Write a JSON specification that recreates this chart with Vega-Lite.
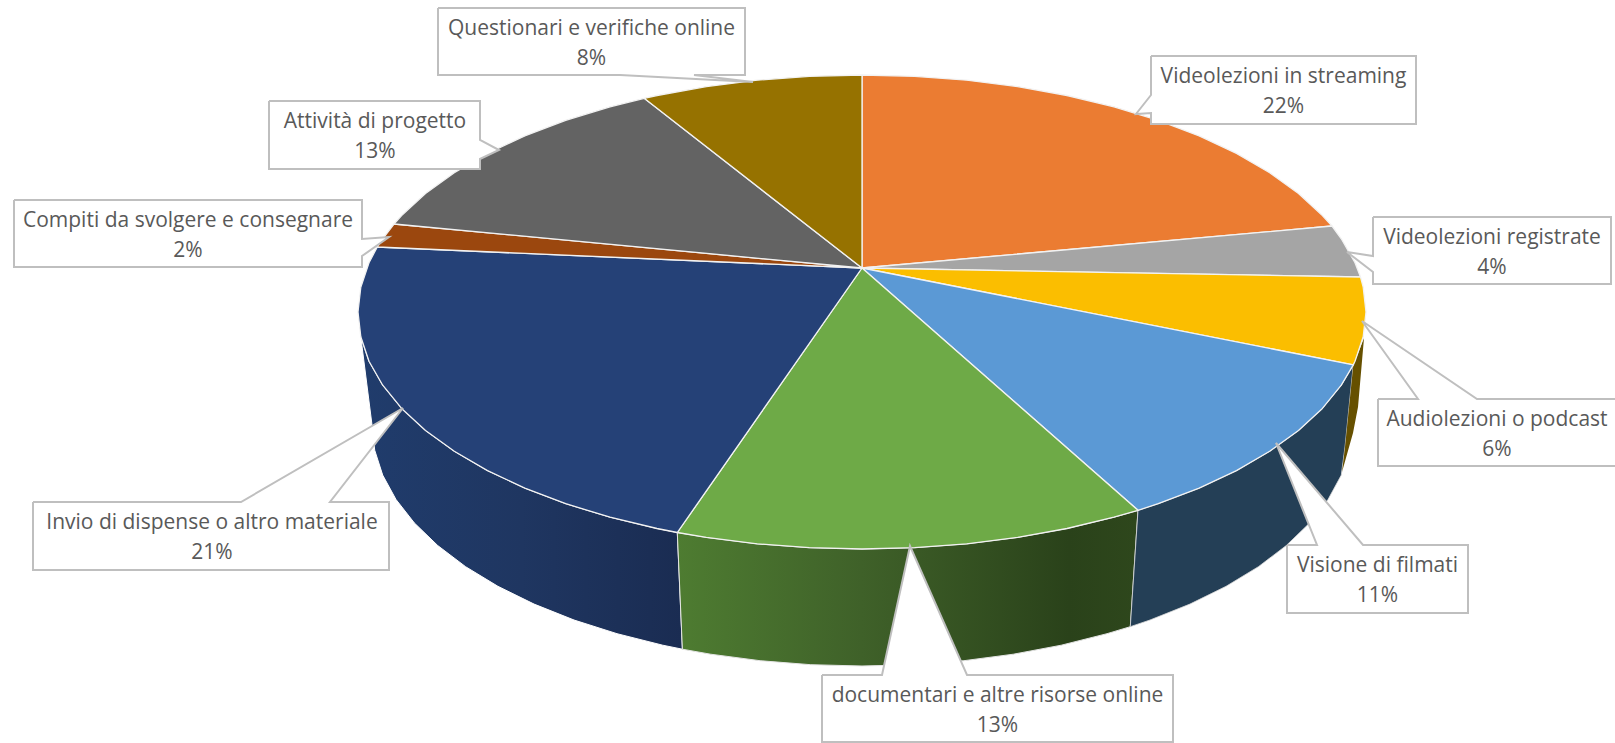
{"$schema":"https://vega.github.io/schema/vega-lite/v6.json","width":1615,"height":743,"padding":0,"autosize":{"type":"fit","contains":"padding"},"background":"white","config":{"view":{"stroke":null}},
"datasets":{
"wedges":[
{"slice":"streaming","i":0,"x":862,"y":268},{"slice":"streaming","i":1,"x":862,"y":75},{"slice":"streaming","i":2,"x":914.7,"y":76.3},{"slice":"streaming","i":3,"x":966.8,"y":80.2},{"slice":"streaming","i":4,"x":1017.7,"y":86.6},{"slice":"streaming","i":5,"x":1067,"y":95.5},{"slice":"streaming","i":6,"x":1114,"y":106.8},{"slice":"streaming","i":7,"x":1158.3,"y":120.3},{"slice":"streaming","i":8,"x":1199.2,"y":135.9},{"slice":"streaming","i":9,"x":1236.5,"y":153.4},{"slice":"streaming","i":10,"x":1269.7,"y":172.7},{"slice":"streaming","i":11,"x":1298.5,"y":193.5},{"slice":"streaming","i":12,"x":1322.4,"y":215.6},{"slice":"streaming","i":13,"x":1332,"y":226},{"slice":"streaming","i":14,"x":862,"y":268},
{"slice":"registrate","i":0,"x":862,"y":268},{"slice":"registrate","i":1,"x":1332,"y":226},{"slice":"registrate","i":2,"x":1341.3,"y":238.8},{"slice":"registrate","i":3,"x":1355,"y":262.7},{"slice":"registrate","i":4,"x":1360.5,"y":277},{"slice":"registrate","i":5,"x":862,"y":268},
{"slice":"audio","i":0,"x":862,"y":268},{"slice":"audio","i":1,"x":1360.5,"y":277},{"slice":"audio","i":2,"x":1363.2,"y":287.2},{"slice":"audio","i":3,"x":1366,"y":312},{"slice":"audio","i":4,"x":1363.2,"y":336.8},{"slice":"audio","i":5,"x":1355,"y":361.3},{"slice":"audio","i":6,"x":1353.3,"y":364.9},{"slice":"audio","i":7,"x":862,"y":268},
{"slice":"filmati","i":0,"x":862,"y":268},{"slice":"filmati","i":1,"x":1353.3,"y":364.9},{"slice":"filmati","i":2,"x":1341.3,"y":385.2},{"slice":"filmati","i":3,"x":1322.4,"y":408.4},{"slice":"filmati","i":4,"x":1298.5,"y":430.5},{"slice":"filmati","i":5,"x":1269.7,"y":451.3},{"slice":"filmati","i":6,"x":1236.5,"y":470.6},{"slice":"filmati","i":7,"x":1199.2,"y":488.1},{"slice":"filmati","i":8,"x":1158.3,"y":503.7},{"slice":"filmati","i":9,"x":1138,"y":510.3},{"slice":"filmati","i":10,"x":862,"y":268},
{"slice":"documentari","i":0,"x":862,"y":268},{"slice":"documentari","i":1,"x":1138,"y":510.3},{"slice":"documentari","i":2,"x":1114,"y":517.2},{"slice":"documentari","i":3,"x":1067,"y":528.5},{"slice":"documentari","i":4,"x":1017.7,"y":537.4},{"slice":"documentari","i":5,"x":966.8,"y":543.8},{"slice":"documentari","i":6,"x":914.7,"y":547.7},{"slice":"documentari","i":7,"x":862,"y":549},{"slice":"documentari","i":8,"x":809.3,"y":547.7},{"slice":"documentari","i":9,"x":757.2,"y":543.8},{"slice":"documentari","i":10,"x":706.3,"y":537.4},{"slice":"documentari","i":11,"x":677.3,"y":532.5},{"slice":"documentari","i":12,"x":862,"y":268},
{"slice":"dispense","i":0,"x":862,"y":268},{"slice":"dispense","i":1,"x":677.3,"y":532.5},{"slice":"dispense","i":2,"x":657,"y":528.5},{"slice":"dispense","i":3,"x":610,"y":517.2},{"slice":"dispense","i":4,"x":565.7,"y":503.7},{"slice":"dispense","i":5,"x":524.8,"y":488.1},{"slice":"dispense","i":6,"x":487.5,"y":470.6},{"slice":"dispense","i":7,"x":454.3,"y":451.3},{"slice":"dispense","i":8,"x":425.5,"y":430.5},{"slice":"dispense","i":9,"x":401.6,"y":408.4},{"slice":"dispense","i":10,"x":382.7,"y":385.2},{"slice":"dispense","i":11,"x":369,"y":361.3},{"slice":"dispense","i":12,"x":360.8,"y":336.8},{"slice":"dispense","i":13,"x":358,"y":312},{"slice":"dispense","i":14,"x":360.8,"y":287.2},{"slice":"dispense","i":15,"x":369,"y":262.7},{"slice":"dispense","i":16,"x":377.3,"y":247},{"slice":"dispense","i":17,"x":862,"y":268},
{"slice":"compiti","i":0,"x":862,"y":268},{"slice":"compiti","i":1,"x":377.3,"y":247},{"slice":"compiti","i":2,"x":382.7,"y":238.8},{"slice":"compiti","i":3,"x":394,"y":224},{"slice":"compiti","i":4,"x":862,"y":268},
{"slice":"progetto","i":0,"x":862,"y":268},{"slice":"progetto","i":1,"x":394,"y":224},{"slice":"progetto","i":2,"x":401.6,"y":215.6},{"slice":"progetto","i":3,"x":425.5,"y":193.5},{"slice":"progetto","i":4,"x":454.3,"y":172.7},{"slice":"progetto","i":5,"x":487.5,"y":153.4},{"slice":"progetto","i":6,"x":524.8,"y":135.9},{"slice":"progetto","i":7,"x":565.7,"y":120.3},{"slice":"progetto","i":8,"x":610,"y":106.8},{"slice":"progetto","i":9,"x":644.2,"y":98.3},{"slice":"progetto","i":10,"x":862,"y":268},
{"slice":"verifiche","i":0,"x":862,"y":268},{"slice":"verifiche","i":1,"x":644.2,"y":98.3},{"slice":"verifiche","i":2,"x":657,"y":95.5},{"slice":"verifiche","i":3,"x":706.3,"y":86.6},{"slice":"verifiche","i":4,"x":757.2,"y":80.2},{"slice":"verifiche","i":5,"x":809.3,"y":76.3},{"slice":"verifiche","i":6,"x":862,"y":75},{"slice":"verifiche","i":7,"x":862,"y":268}
],
"walls":[
{"slice":"dispense","i":0,"x":677.3,"y":532.5},{"slice":"dispense","i":1,"x":657,"y":528.5},{"slice":"dispense","i":2,"x":610,"y":517.2},{"slice":"dispense","i":3,"x":565.7,"y":503.7},{"slice":"dispense","i":4,"x":524.8,"y":488.1},{"slice":"dispense","i":5,"x":487.5,"y":470.6},{"slice":"dispense","i":6,"x":454.3,"y":451.3},{"slice":"dispense","i":7,"x":425.5,"y":430.5},{"slice":"dispense","i":8,"x":401.6,"y":408.4},{"slice":"dispense","i":9,"x":382.7,"y":385.2},{"slice":"dispense","i":10,"x":369,"y":361.3},{"slice":"dispense","i":11,"x":360.8,"y":336.8},{"slice":"dispense","i":12,"x":372,"y":425},{"slice":"dispense","i":13,"x":374.7,"y":450.2},{"slice":"dispense","i":14,"x":382.7,"y":475.1},{"slice":"dispense","i":15,"x":396,"y":499.5},{"slice":"dispense","i":16,"x":414.4,"y":523},{"slice":"dispense","i":17,"x":437.7,"y":545.5},{"slice":"dispense","i":18,"x":465.6,"y":566.7},{"slice":"dispense","i":19,"x":497.9,"y":586.3},{"slice":"dispense","i":20,"x":534.1,"y":604.1},{"slice":"dispense","i":21,"x":574,"y":620},{"slice":"dispense","i":22,"x":617,"y":633.7},{"slice":"dispense","i":23,"x":662.7,"y":645.2},{"slice":"dispense","i":24,"x":682.4,"y":649.2},{"slice":"dispense","i":25,"x":677.3,"y":532.5},
{"slice":"documentari","i":0,"x":677.3,"y":532.5},{"slice":"documentari","i":1,"x":706.3,"y":537.4},{"slice":"documentari","i":2,"x":757.2,"y":543.8},{"slice":"documentari","i":3,"x":809.3,"y":547.7},{"slice":"documentari","i":4,"x":862,"y":549},{"slice":"documentari","i":5,"x":914.7,"y":547.7},{"slice":"documentari","i":6,"x":966.8,"y":543.8},{"slice":"documentari","i":7,"x":1017.7,"y":537.4},{"slice":"documentari","i":8,"x":1067,"y":528.5},{"slice":"documentari","i":9,"x":1114,"y":517.2},{"slice":"documentari","i":10,"x":1138,"y":510.3},{"slice":"documentari","i":11,"x":1130.3,"y":626.7},{"slice":"documentari","i":12,"x":1107,"y":633.7},{"slice":"documentari","i":13,"x":1061.3,"y":645.2},{"slice":"documentari","i":14,"x":1013.4,"y":654.2},{"slice":"documentari","i":15,"x":963.9,"y":660.7},{"slice":"documentari","i":16,"x":913.2,"y":664.7},{"slice":"documentari","i":17,"x":862,"y":666},{"slice":"documentari","i":18,"x":810.8,"y":664.7},{"slice":"documentari","i":19,"x":760.1,"y":660.7},{"slice":"documentari","i":20,"x":710.6,"y":654.2},{"slice":"documentari","i":21,"x":682.4,"y":649.2},{"slice":"documentari","i":22,"x":677.3,"y":532.5},
{"slice":"filmati","i":0,"x":1353.3,"y":364.9},{"slice":"filmati","i":1,"x":1341.3,"y":385.2},{"slice":"filmati","i":2,"x":1322.4,"y":408.4},{"slice":"filmati","i":3,"x":1298.5,"y":430.5},{"slice":"filmati","i":4,"x":1269.7,"y":451.3},{"slice":"filmati","i":5,"x":1236.5,"y":470.6},{"slice":"filmati","i":6,"x":1199.2,"y":488.1},{"slice":"filmati","i":7,"x":1158.3,"y":503.7},{"slice":"filmati","i":8,"x":1138,"y":510.3},{"slice":"filmati","i":9,"x":1130.3,"y":626.7},{"slice":"filmati","i":10,"x":1150,"y":620},{"slice":"filmati","i":11,"x":1189.9,"y":604.1},{"slice":"filmati","i":12,"x":1226.1,"y":586.3},{"slice":"filmati","i":13,"x":1258.4,"y":566.7},{"slice":"filmati","i":14,"x":1286.3,"y":545.5},{"slice":"filmati","i":15,"x":1309.6,"y":523},{"slice":"filmati","i":16,"x":1328,"y":499.5},{"slice":"filmati","i":17,"x":1341.3,"y":475.1},{"slice":"filmati","i":18,"x":1345,"y":447},{"slice":"filmati","i":19,"x":1353.3,"y":364.9},
{"slice":"audio","i":0,"x":1364,"y":338},{"slice":"audio","i":1,"x":1355,"y":361.3},{"slice":"audio","i":2,"x":1353.3,"y":364.9},{"slice":"audio","i":3,"x":1345,"y":447},{"slice":"audio","i":4,"x":1342,"y":472},{"slice":"audio","i":5,"x":1353,"y":433},{"slice":"audio","i":6,"x":1358,"y":407},{"slice":"audio","i":7,"x":1364,"y":338}
],
"callouts":[
{"slice":"verifiche","i":0,"x":438,"y":8},{"slice":"verifiche","i":1,"x":745,"y":8},{"slice":"verifiche","i":2,"x":745,"y":75},{"slice":"verifiche","i":3,"x":694,"y":75},{"slice":"verifiche","i":4,"x":753,"y":82},{"slice":"verifiche","i":5,"x":620,"y":75},{"slice":"verifiche","i":6,"x":438,"y":75},{"slice":"verifiche","i":7,"x":438,"y":8},
{"slice":"progetto","i":0,"x":269,"y":101},{"slice":"progetto","i":1,"x":480,"y":101},{"slice":"progetto","i":2,"x":480,"y":140},{"slice":"progetto","i":3,"x":499,"y":150},{"slice":"progetto","i":4,"x":480,"y":159},{"slice":"progetto","i":5,"x":480,"y":169},{"slice":"progetto","i":6,"x":269,"y":169},{"slice":"progetto","i":7,"x":269,"y":101},
{"slice":"compiti","i":0,"x":14,"y":200},{"slice":"compiti","i":1,"x":362,"y":200},{"slice":"compiti","i":2,"x":362,"y":239},{"slice":"compiti","i":3,"x":389,"y":237},{"slice":"compiti","i":4,"x":362,"y":256},{"slice":"compiti","i":5,"x":362,"y":267},{"slice":"compiti","i":6,"x":14,"y":267},{"slice":"compiti","i":7,"x":14,"y":200},
{"slice":"streaming","i":0,"x":1151,"y":56},{"slice":"streaming","i":1,"x":1416,"y":56},{"slice":"streaming","i":2,"x":1416,"y":124},{"slice":"streaming","i":3,"x":1151,"y":124},{"slice":"streaming","i":4,"x":1151,"y":113},{"slice":"streaming","i":5,"x":1136,"y":114},{"slice":"streaming","i":6,"x":1151,"y":95},{"slice":"streaming","i":7,"x":1151,"y":56},
{"slice":"registrate","i":0,"x":1373,"y":217},{"slice":"registrate","i":1,"x":1611,"y":217},{"slice":"registrate","i":2,"x":1611,"y":284},{"slice":"registrate","i":3,"x":1373,"y":284},{"slice":"registrate","i":4,"x":1373,"y":272},{"slice":"registrate","i":5,"x":1347,"y":252},{"slice":"registrate","i":6,"x":1373,"y":256},{"slice":"registrate","i":7,"x":1373,"y":217},
{"slice":"audio","i":0,"x":1378,"y":399},{"slice":"audio","i":1,"x":1418,"y":399},{"slice":"audio","i":2,"x":1362,"y":321},{"slice":"audio","i":3,"x":1477,"y":399},{"slice":"audio","i":4,"x":1617,"y":399},{"slice":"audio","i":5,"x":1617,"y":466},{"slice":"audio","i":6,"x":1378,"y":466},{"slice":"audio","i":7,"x":1378,"y":399},
{"slice":"filmati","i":0,"x":1287,"y":545},{"slice":"filmati","i":1,"x":1317,"y":545},{"slice":"filmati","i":2,"x":1276,"y":443},{"slice":"filmati","i":3,"x":1363,"y":545},{"slice":"filmati","i":4,"x":1468,"y":545},{"slice":"filmati","i":5,"x":1468,"y":613},{"slice":"filmati","i":6,"x":1287,"y":613},{"slice":"filmati","i":7,"x":1287,"y":545},
{"slice":"documentari","i":0,"x":822,"y":675},{"slice":"documentari","i":1,"x":882,"y":675},{"slice":"documentari","i":2,"x":910,"y":546},{"slice":"documentari","i":3,"x":967,"y":675},{"slice":"documentari","i":4,"x":1173,"y":675},{"slice":"documentari","i":5,"x":1173,"y":742},{"slice":"documentari","i":6,"x":822,"y":742},{"slice":"documentari","i":7,"x":822,"y":675},
{"slice":"dispense","i":0,"x":33,"y":502},{"slice":"dispense","i":1,"x":241,"y":502},{"slice":"dispense","i":2,"x":403,"y":408},{"slice":"dispense","i":3,"x":330,"y":502},{"slice":"dispense","i":4,"x":389,"y":502},{"slice":"dispense","i":5,"x":389,"y":570},{"slice":"dispense","i":6,"x":33,"y":570},{"slice":"dispense","i":7,"x":33,"y":502}
],
"labels":[
{"slice":"streaming","name":"Videolezioni in streaming","pct":"22%","x":1283.5,"y":90},
{"slice":"registrate","name":"Videolezioni registrate","pct":"4%","x":1492,"y":250.5},
{"slice":"audio","name":"Audiolezioni o podcast","pct":"6%","x":1497,"y":432.5},
{"slice":"filmati","name":"Visione di filmati","pct":"11%","x":1377.5,"y":579},
{"slice":"documentari","name":"documentari e altre risorse online","pct":"13%","x":997.5,"y":708.5},
{"slice":"dispense","name":"Invio di dispense o altro materiale","pct":"21%","x":212,"y":536},
{"slice":"compiti","name":"Compiti da svolgere e consegnare","pct":"2%","x":188,"y":233.5},
{"slice":"progetto","name":"Attività di progetto","pct":"13%","x":375,"y":135},
{"slice":"verifiche","name":"Questionari e verifiche online","pct":"8%","x":591.5,"y":42}
]},
"encoding":{
"x":{"field":"x","type":"quantitative","scale":{"domain":[0,1615],"nice":false,"zero":false},"axis":null},
"y":{"field":"y","type":"quantitative","scale":{"domain":[0,743],"reverse":true,"nice":false,"zero":false},"axis":null}
},
"layer":[
{"data":{"name":"walls"},"transform":[{"filter":"datum.slice==='dispense'"}],"mark":{"type":"line","interpolate":"linear","stroke":"#ffffff","strokeWidth":1,"fill":{"gradient":"linear","x1":0,"y1":0,"x2":1,"y2":0,"stops":[{"offset":0,"color":"#203c6c"},{"offset":0.5,"color":"#1f3661"},{"offset":1,"color":"#1a2c52"}]}},"encoding":{"order":{"field":"i","type":"quantitative"}}},
{"data":{"name":"walls"},"transform":[{"filter":"datum.slice==='documentari'"}],"mark":{"type":"line","interpolate":"linear","stroke":"#e4e4e4","strokeWidth":1,"fill":{"gradient":"linear","x1":0,"y1":0,"x2":1,"y2":0,"stops":[{"offset":0,"color":"#4e7c31"},{"offset":0.4,"color":"#3f6129"},{"offset":0.85,"color":"#2a421a"},{"offset":1,"color":"#2e471c"}]}},"encoding":{"order":{"field":"i","type":"quantitative"}}},
{"data":{"name":"walls"},"transform":[{"filter":"datum.slice==='filmati'"}],"mark":{"type":"line","interpolate":"linear","stroke":"#d9d9d9","strokeWidth":0.8,"fill":"#243f56"},"encoding":{"order":{"field":"i","type":"quantitative"}}},
{"data":{"name":"walls"},"transform":[{"filter":"datum.slice==='audio'"}],"mark":{"type":"line","interpolate":"linear","strokeWidth":0,"fill":"#665000"},"encoding":{"order":{"field":"i","type":"quantitative"}}},
{"data":{"name":"wedges"},"mark":{"type":"line","interpolate":"linear","stroke":"#f2f2f2","strokeWidth":1.3,"strokeJoin":"round"},"encoding":{"order":{"field":"i","type":"quantitative"},"detail":{"field":"slice"},"fill":{"field":"slice","type":"nominal","legend":null,"scale":{"domain":["streaming","registrate","audio","filmati","documentari","dispense","compiti","progetto","verifiche"],"range":["#eb7c32","#a5a5a5","#fbbe00","#5b99d5","#6eaa47","#254177","#9b470e","#636363","#967200"]}}}},
{"data":{"name":"callouts"},"mark":{"type":"line","interpolate":"linear","stroke":"#bfbfbf","strokeWidth":2,"fill":"#ffffff","clip":true,"strokeJoin":"miter"},"encoding":{"order":{"field":"i","type":"quantitative"},"detail":{"field":"slice"}}},
{"data":{"name":"labels"},"mark":{"type":"text","font":"Open Sans","fontSize":21,"color":"#595959","dy":-13,"align":"center","baseline":"middle"},"encoding":{"text":{"field":"name"}}},
{"data":{"name":"labels"},"mark":{"type":"text","font":"Open Sans","fontSize":21,"color":"#595959","dy":17,"align":"center","baseline":"middle"},"encoding":{"text":{"field":"pct"}}}
]}
